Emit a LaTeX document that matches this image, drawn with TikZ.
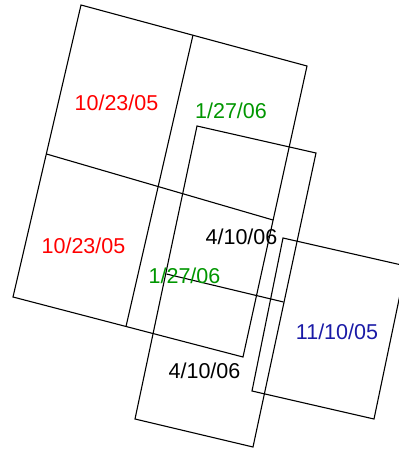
\documentclass[tikz,border=0pt]{standalone}
\usepackage{fontspec}
\setmainfont{Liberation Sans}
\definecolor{dred}{RGB}{255,0,0}
\definecolor{dgreen}{RGB}{0,150,0}
\definecolor{dblue}{RGB}{26,26,166}
\begin{document}
\begin{tikzpicture}[x=1pt,y=-1pt,
  frame/.style={draw=black,line width=1.1pt,line join=miter},
  lbl/.style={font=\fontsize{21.5}{24}\selectfont,inner sep=0pt,anchor=center}]
\useasboundingbox (0,0) rectangle (399,451);
\clip (0,0) rectangle (399,451);
% big 2x2 grid (10/23/05 left column, 1/27/06 right column)
\coordinate (gTL) at (81,5);
\coordinate (gTR) at (307,66);
\coordinate (gBR) at (243,357);
\coordinate (gBL) at (13,297);
\coordinate (gT) at (193,35);
\coordinate (gB) at (126,326.5);
\coordinate (gL) at (46.5,154);
\coordinate (gR) at (273,220);
\draw[frame] (gTL) -- (gTR) -- (gBR) -- (gBL) -- cycle;
\draw[frame] (gT) -- (gB);
\draw[frame] (gL) -- (gR);
% 4/10/06 pair
\coordinate (aTL) at (197,126);
\coordinate (aTR) at (316,153);
\coordinate (aBR) at (253,447);
\coordinate (aBL) at (135,419);
\coordinate (aL) at (166.5,274);
\coordinate (aR) at (283.5,302);
\draw[frame] (aTL) -- (aTR) -- (aBR) -- (aBL) -- cycle;
\draw[frame] (aL) -- (aR);
% 11/10/05
\coordinate (bTL) at (283,238);
\coordinate (bTR) at (406,266);
\coordinate (bBR) at (374,419);
\coordinate (bBL) at (252,391);
\draw[frame] (bTL) -- (bTR) -- (bBR) -- (bBL) -- cycle;
% labels
\node[lbl,text=dred] (t1) at (116.5,103) {10/23/05};
\node[lbl,text=dgreen] (t2) at (231,111) {1/27/06};
\node[lbl,text=dred] (t3) at (83.5,246) {10/23/05};
\node[lbl,text=black] (t4) at (241.5,237) {4/10/06};
\node[lbl,text=dgreen] (t5) at (184.5,275.5) {1/27/06};
\node[lbl,text=black] (t6) at (204.5,370.5) {4/10/06};
\node[lbl,text=dblue] (t7) at (337,332) {11/10/05};
\end{tikzpicture}
\end{document}
